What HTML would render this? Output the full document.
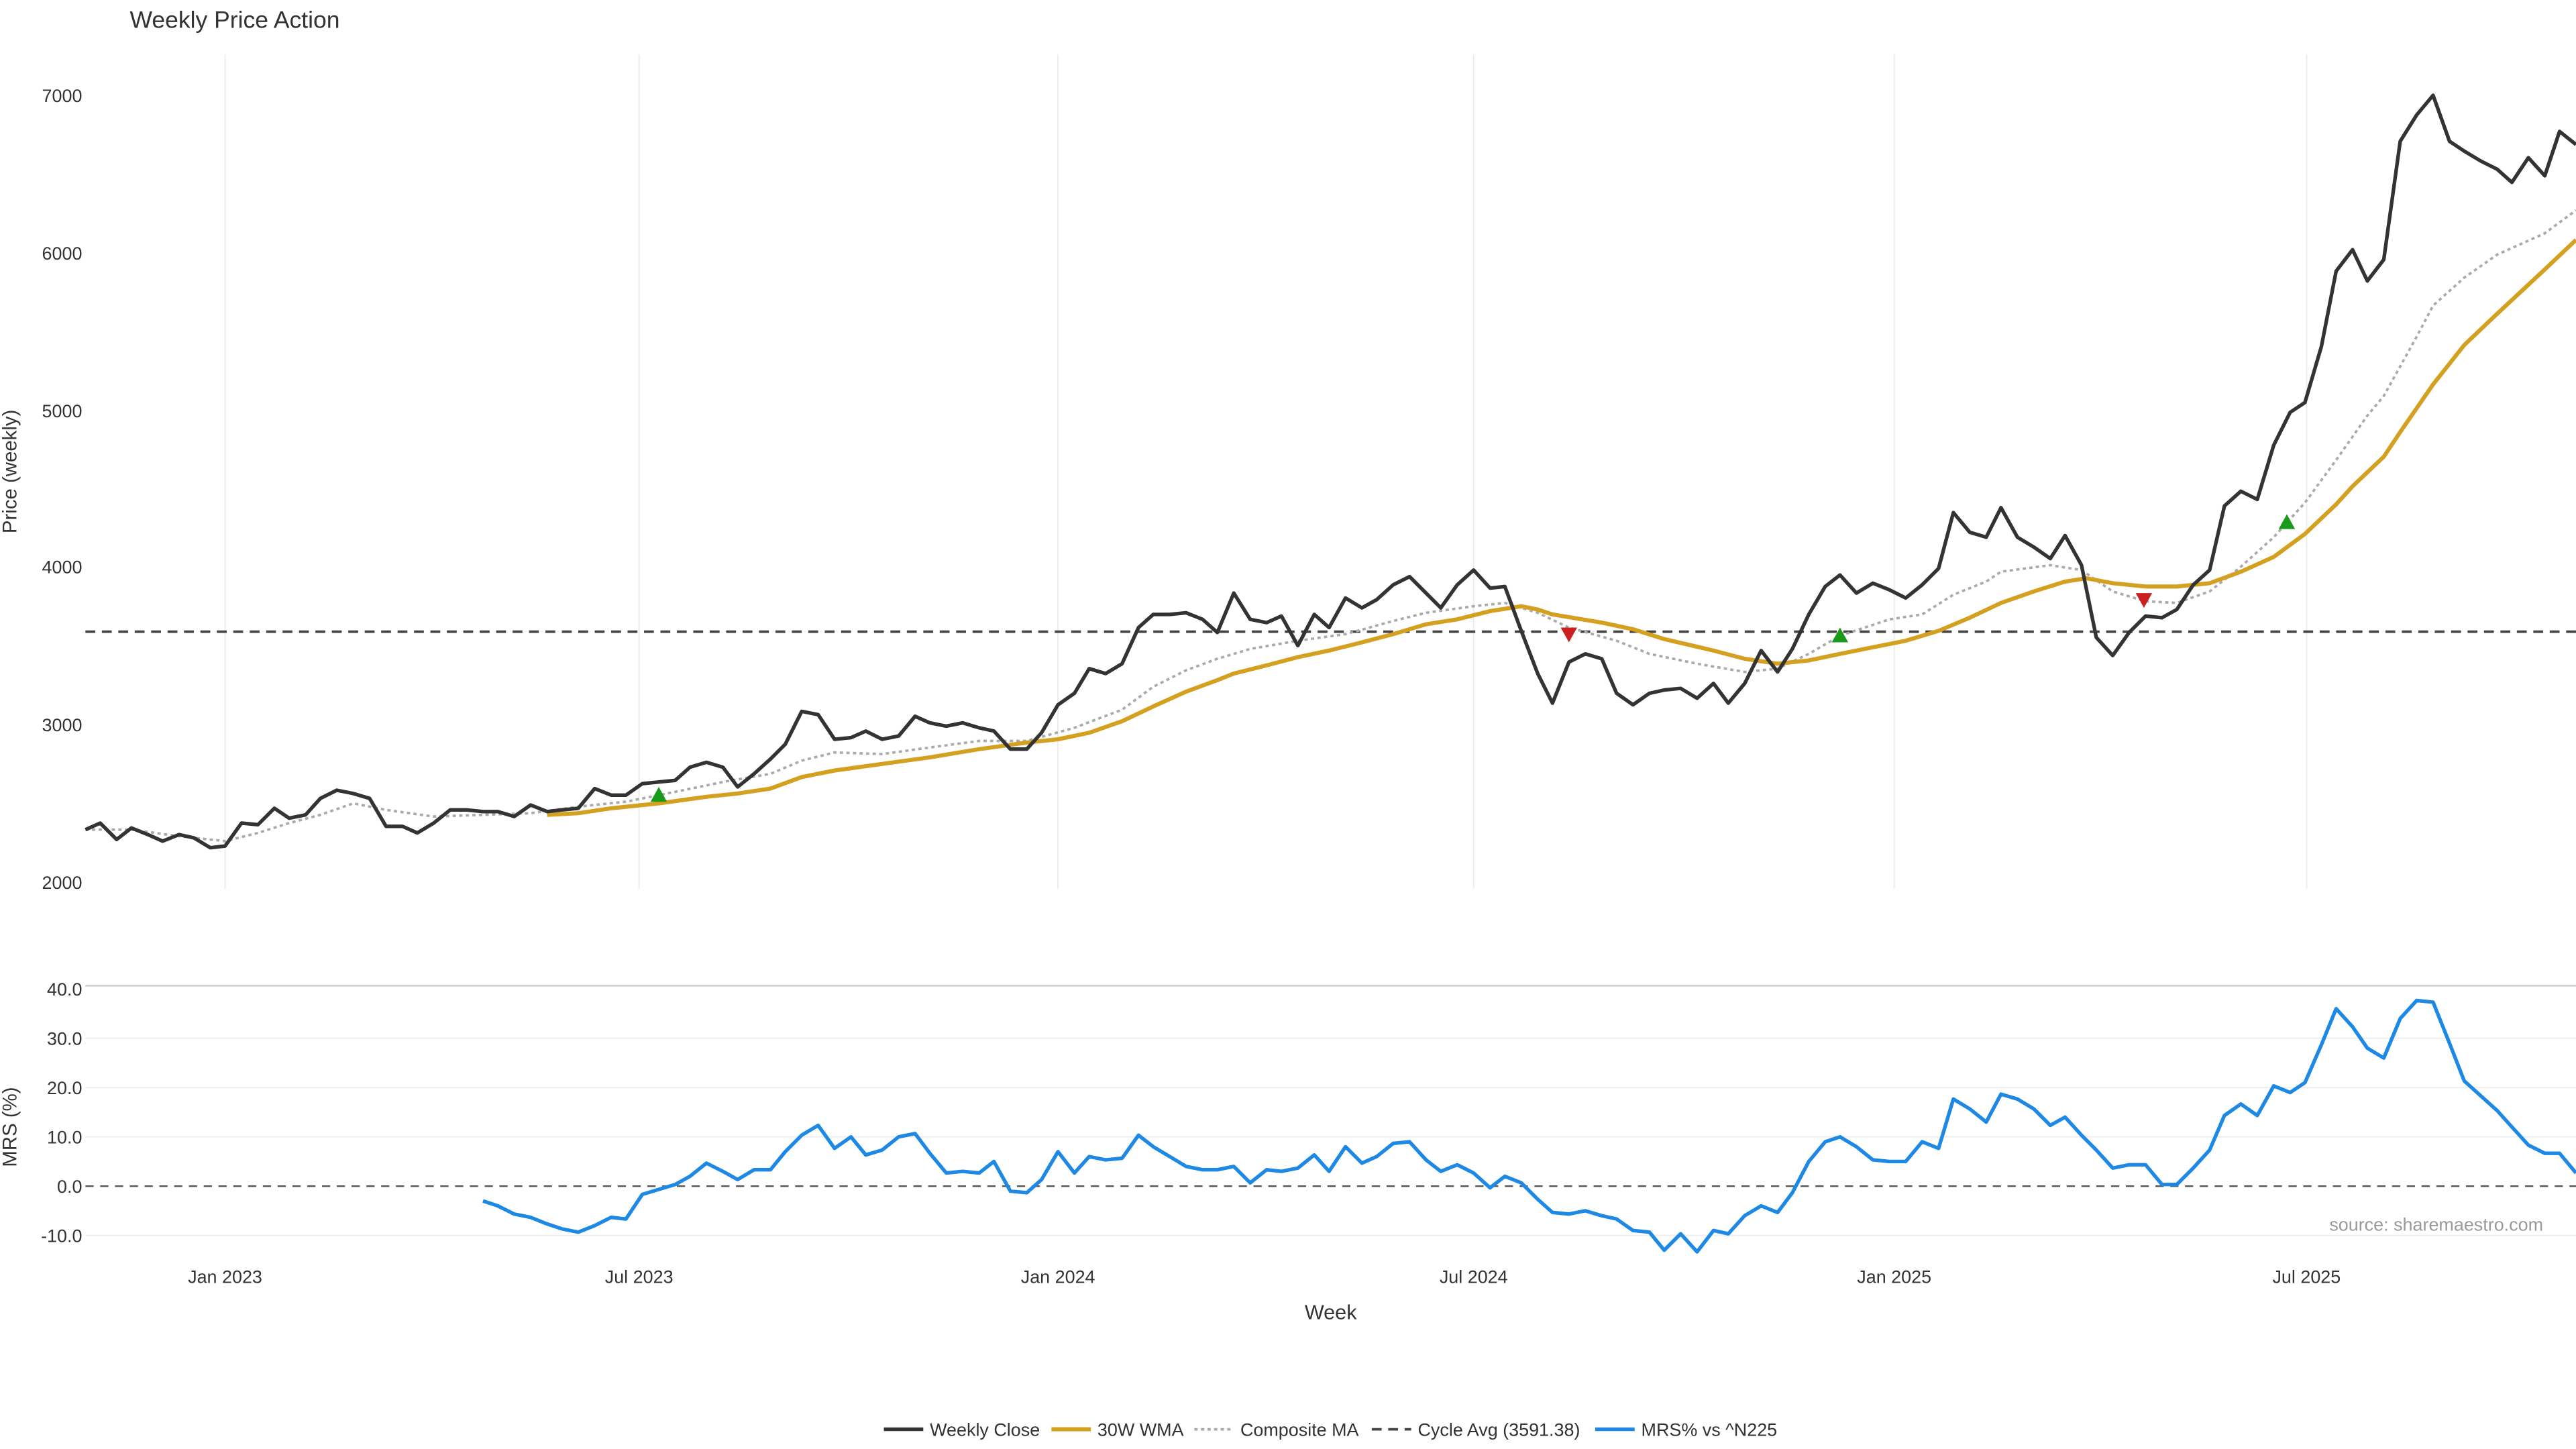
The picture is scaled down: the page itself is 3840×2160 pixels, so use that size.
<!DOCTYPE html>
<html><head><meta charset="utf-8"><style>html,body{margin:0;padding:0;background:#fff}svg{display:block}</style></head>
<body>
<svg width="3840" height="2160" viewBox="0 0 1568 882" xmlns="http://www.w3.org/2000/svg" font-family="Liberation Sans, DejaVu Sans, sans-serif">
<rect width="1568" height="882" fill="#fff"/>
<text x="79" y="17" font-size="14.5" fill="#333">Weekly Price Action</text>
<!-- vertical grid -->
<g stroke="#ececec" stroke-width="0.8">
<line x1="137" y1="33" x2="137" y2="541"/><line x1="389" y1="33" x2="389" y2="541"/><line x1="644" y1="33" x2="644" y2="541"/><line x1="897" y1="33" x2="897" y2="541"/><line x1="1153" y1="33" x2="1153" y2="541"/><line x1="1404" y1="33" x2="1404" y2="541"/>
</g>
<g font-size="11" fill="#333" text-anchor="end">
<text x="50" y="62">7000</text><text x="50" y="158">6000</text><text x="50" y="254">5000</text><text x="50" y="349">4000</text><text x="50" y="445">3000</text><text x="50" y="541">2000</text>
</g>
<text transform="translate(10,287) rotate(-90)" font-size="12" fill="#333" text-anchor="middle">Price (weekly)</text>
<line x1="52" y1="384.5" x2="1568" y2="384.5" stroke="#444" stroke-width="1.5" stroke-dasharray="6,4"/>
<polyline fill="none" stroke="#aaa" stroke-width="1.5" stroke-dasharray="2,2" points="52,505 80,505 109,509 137,512 157,507 176,501 195,496 215,489 235,493 264,497 294,496 323,495 352,491 381,488 411,482 440,476 469,471 488,463 508,458 537,459 566,455 596,451 625,451 654,443 683,432 702,418 722,408 741,401 761,395 790,390 819,386 848,378 868,373 897,369 916,367 936,373 955,382 984,390 1004,398 1033,404 1062,409 1082,407 1101,398 1120,387 1150,377 1170,374 1189,362 1209,354 1218,348 1248,344 1267,347 1286,360 1306,366 1325,367 1345,360 1364,345 1384,327 1403,306 1422,280 1441,253 1451,241 1471,205 1481,186 1500,169 1520,155 1549,142 1568,128"/>
<polyline fill="none" stroke="#d4a020" stroke-width="2.5" points="333,496 352,495 372,492 401,489 430,485 449,483 469,480 488,473 508,469 537,465 566,461 596,456 625,452 644,450 663,446 683,439 702,430 722,421 741,414 751,410 771,405 790,400 809,396 829,391 848,386 868,380 887,377 907,372 926,369 936,371 945,374 975,379 994,383 1013,389 1043,396 1062,401 1082,404 1101,402 1120,398 1140,394 1160,390 1180,384 1199,376 1218,367 1238,360 1257,354 1270,352 1286,355 1306,357 1325,357 1345,355 1364,348 1384,339 1403,325 1422,307 1432,296 1451,278 1461,263 1481,234 1500,210 1520,191 1549,164 1568,146"/>
<polyline fill="none" stroke="#333" stroke-width="2.2" stroke-linejoin="round" points="52,505 61,501 71,511 80,504 90,508 99,512 109,508 118,510 128,516 137,515 147,501 157,502 167,492 176,498 186,496 195,486 205,481 215,483 225,486 235,503 245,503 254,507 264,501 274,493 284,493 294,494 303,494 313,497 323,490 333,494 342,493 352,492 362,480 372,484 381,484 391,477 401,476 411,475 420,467 430,464 440,467 449,479 459,471 469,462 478,453 488,433 498,435 508,450 518,449 527,445 537,450 547,448 557,436 566,440 576,442 586,440 596,443 605,445 615,456 625,456 634,446 644,429 654,422 663,407 673,410 683,404 693,382 702,374 712,374 722,373 732,377 741,385 751,361 761,377 771,379 780,375 790,393 800,374 809,382 819,364 829,370 838,365 848,356 858,351 868,361 877,370 887,356 897,347 907,358 916,357 926,384 936,410 945,428 955,403 965,398 975,401 984,422 994,429 1004,422 1013,420 1023,419 1033,425 1043,416 1052,428 1062,416 1072,396 1082,409 1091,395 1101,374 1111,357 1120,350 1130,361 1140,355 1150,359 1160,364 1170,356 1180,346 1189,312 1199,324 1209,327 1218,309 1228,327 1238,333 1248,340 1257,326 1267,344 1276,388 1286,399 1296,385 1306,375 1316,376 1325,371 1335,356 1345,347 1354,308 1364,299 1374,304 1384,271 1394,251 1403,245 1413,211 1422,165 1432,152 1441,171 1451,158 1461,86 1471,70 1481,58 1491,86 1500,92 1510,98 1520,103 1529,111 1539,96 1549,107 1558,80 1568,88"/>
<g fill="#1a9a1a"><polygon points="401,479 396,488 406,488"/><polygon points="1120,382 1115,391 1125,391"/><polygon points="1392,313 1387,322 1397,322"/></g>
<g fill="#cc2020"><polygon points="955,391 950,382 960,382"/><polygon points="1305,370 1300,361 1310,361"/></g>
<!-- bottom chart -->
<line x1="52" y1="600" x2="1568" y2="600" stroke="#ccc" stroke-width="1"/>
<g stroke="#eee" stroke-width="0.8"><line x1="52" y1="632" x2="1568" y2="632"/><line x1="52" y1="662" x2="1568" y2="662"/><line x1="52" y1="692" x2="1568" y2="692"/><line x1="52" y1="752" x2="1568" y2="752"/></g>
<line x1="52" y1="722" x2="1568" y2="722" stroke="#555" stroke-width="1" stroke-dasharray="5,4"/>
<g font-size="11" fill="#333" text-anchor="end">
<text x="50" y="606">40.0</text><text x="50" y="636">30.0</text><text x="50" y="666">20.0</text><text x="50" y="696">10.0</text><text x="50" y="726">0.0</text><text x="50" y="756">-10.0</text>
</g>
<text transform="translate(10,686) rotate(-90)" font-size="12" fill="#333" text-anchor="middle">MRS (%)</text>
<polyline fill="none" stroke="#1e88e5" stroke-width="2.2" stroke-linejoin="round" points="294,731 303,734 313,739 323,741 333,745 342,748 352,750 362,746 372,741 381,742 391,727 401,724 411,721 420,716 430,708 440,713 449,718 459,712 469,712 478,701 488,691 498,685 508,699 518,692 527,703 537,700 547,692 557,690 566,702 576,714 586,713 596,714 605,707 615,725 625,726 634,718 644,701 654,714 663,704 673,706 683,705 693,691 702,698 712,704 722,710 732,712 741,712 751,710 761,720 771,712 780,713 790,711 800,703 809,713 819,698 829,708 838,704 848,696 858,695 868,706 877,713 887,709 897,714 907,723 916,716 926,720 936,730 945,738 955,739 965,737 975,740 984,742 994,749 1004,750 1013,761 1023,751 1033,762 1043,749 1052,751 1062,740 1072,734 1082,738 1091,726 1101,707 1111,695 1120,692 1130,698 1140,706 1150,707 1160,707 1170,695 1180,699 1189,669 1199,675 1209,683 1218,666 1228,669 1238,675 1248,685 1257,680 1267,691 1276,700 1286,711 1296,709 1306,709 1316,721 1325,721 1335,711 1345,700 1354,679 1364,672 1374,679 1384,661 1394,665 1403,659 1413,636 1422,614 1432,625 1441,638 1451,644 1461,620 1471,609 1481,610 1491,635 1500,658 1510,667 1520,676 1529,686 1539,697 1549,702 1558,702 1568,714"/>
<text x="1548" y="749" font-size="11" fill="#999" text-anchor="end">source: sharemaestro.com</text>
<g font-size="11" fill="#333" text-anchor="middle">
<text x="137" y="781">Jan 2023</text><text x="389" y="781">Jul 2023</text><text x="644" y="781">Jan 2024</text><text x="897" y="781">Jul 2024</text><text x="1153" y="781">Jan 2025</text><text x="1404" y="781">Jul 2025</text>
</g>
<text x="810" y="803" font-size="12.5" fill="#333" text-anchor="middle">Week</text>
<!-- legend -->
<g font-size="11" fill="#333">
<line x1="538" y1="870" x2="562" y2="870" stroke="#333" stroke-width="2.2"/><text x="566" y="874">Weekly Close</text>
<line x1="640" y1="870" x2="664" y2="870" stroke="#d4a020" stroke-width="2.5"/><text x="668" y="874">30W WMA</text>
<line x1="727" y1="870" x2="751" y2="870" stroke="#aaa" stroke-width="1.5" stroke-dasharray="2,2"/><text x="755" y="874">Composite MA</text>
<line x1="835" y1="870" x2="859" y2="870" stroke="#444" stroke-width="1.5" stroke-dasharray="6,4"/><text x="863" y="874">Cycle Avg (3591.38)</text>
<line x1="971" y1="870" x2="995" y2="870" stroke="#1e88e5" stroke-width="2.2"/><text x="999" y="874">MRS% vs ^N225</text>
</g>
</svg>
</body></html>
